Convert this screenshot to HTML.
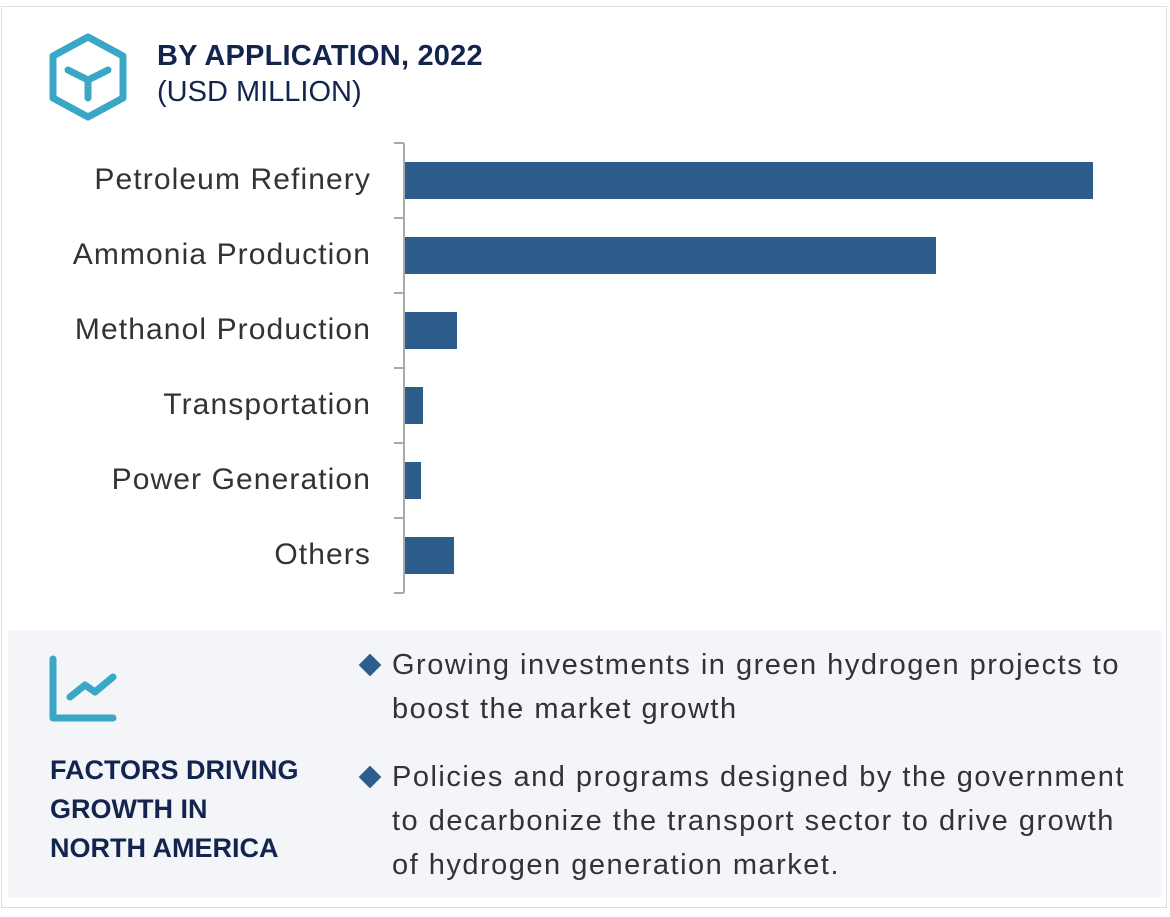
<!DOCTYPE html>
<html><head><style>
body{margin:0;width:1170px;height:917px;background:#fff;font-family:"Liberation Sans",Arial,sans-serif;position:relative;overflow:hidden}
.frame{position:absolute;left:1px;top:6px;width:1166px;height:902px;border:1px solid #dcdde3;box-sizing:border-box}
.t1{position:absolute;left:157px;top:40px;font-size:29px;font-weight:bold;color:#13254f;letter-spacing:0.2px}
.t2{position:absolute;left:157px;top:76px;font-size:29px;color:#13254f}
.lab{position:absolute;right:799px;font-size:30px;color:#333;line-height:36px;letter-spacing:1.1px}
.bar{position:absolute;left:405px;height:37px;background:#2d5d8a}
.panel{position:absolute;left:8px;top:630px;width:1153px;height:268px;background:#f3f5f9}
.ft{position:absolute;left:50px;top:751px;font-size:27px;font-weight:bold;color:#13254f;line-height:39px}
.bt{position:absolute;left:392px;font-size:29px;color:#333;line-height:44px;width:760px;letter-spacing:1.5px}
.dia{position:absolute;left:362px;width:16px;height:16px;background:#2d5d8a;transform:rotate(45deg)}
</style></head><body>
<div class="frame"></div>
<svg style="position:absolute;left:45px;top:32px" width="86" height="90">
<polygon points="43,5 78,24 78,66 43,85 8,66 8,24" fill="none" stroke="#3aa7c6" stroke-width="7" stroke-linejoin="round"/>
<path d="M23,38 L43,48 L63,38 M43,48 L43,66" fill="none" stroke="#3aa7c6" stroke-width="7" stroke-linecap="round"/>
</svg>
<div class="t1">BY APPLICATION, 2022</div>
<div class="t2">(USD MILLION)</div>
<svg style="position:absolute;left:0;top:0" width="1170" height="620">
<path d="M404,143 V593 M394,143H404 M394,218H404 M394,293H404 M394,368H404 M394,443H404 M394,518H404 M394,593H404" stroke="#aaa" stroke-width="2" fill="none"/>
</svg>
<div class="bar" style="top:162px;width:688px"></div>
<div class="bar" style="top:237px;width:531px"></div>
<div class="bar" style="top:312px;width:52px"></div>
<div class="bar" style="top:387px;width:18px"></div>
<div class="bar" style="top:462px;width:16px"></div>
<div class="bar" style="top:537px;width:49px"></div>
<div class="lab" style="top:162px">Petroleum Refinery</div>
<div class="lab" style="top:237px">Ammonia Production</div>
<div class="lab" style="top:312px">Methanol Production</div>
<div class="lab" style="top:387px">Transportation</div>
<div class="lab" style="top:462px">Power Generation</div>
<div class="lab" style="top:537px">Others</div>
<div class="panel"></div>
<svg style="position:absolute;left:45px;top:652px" width="75" height="75">
<path d="M8,7 V66 H68" fill="none" stroke="#3aa7c6" stroke-width="7" stroke-linecap="round" stroke-linejoin="round"/>
<path d="M25,45 L40,33 L50,40 L68,25" fill="none" stroke="#3aa7c6" stroke-width="7" stroke-linecap="round" stroke-linejoin="round"/>
</svg>
<div class="ft">FACTORS DRIVING<br>GROWTH IN<br>NORTH AMERICA</div>
<div class="dia" style="top:657px"></div>
<div class="bt" style="top:643px">Growing investments in green hydrogen projects to<br>boost the market growth</div>
<div class="dia" style="top:769px"></div>
<div class="bt" style="top:755px">Policies and programs designed by the government<br>to decarbonize the transport sector to drive growth<br>of hydrogen generation market.</div>
</body></html>
